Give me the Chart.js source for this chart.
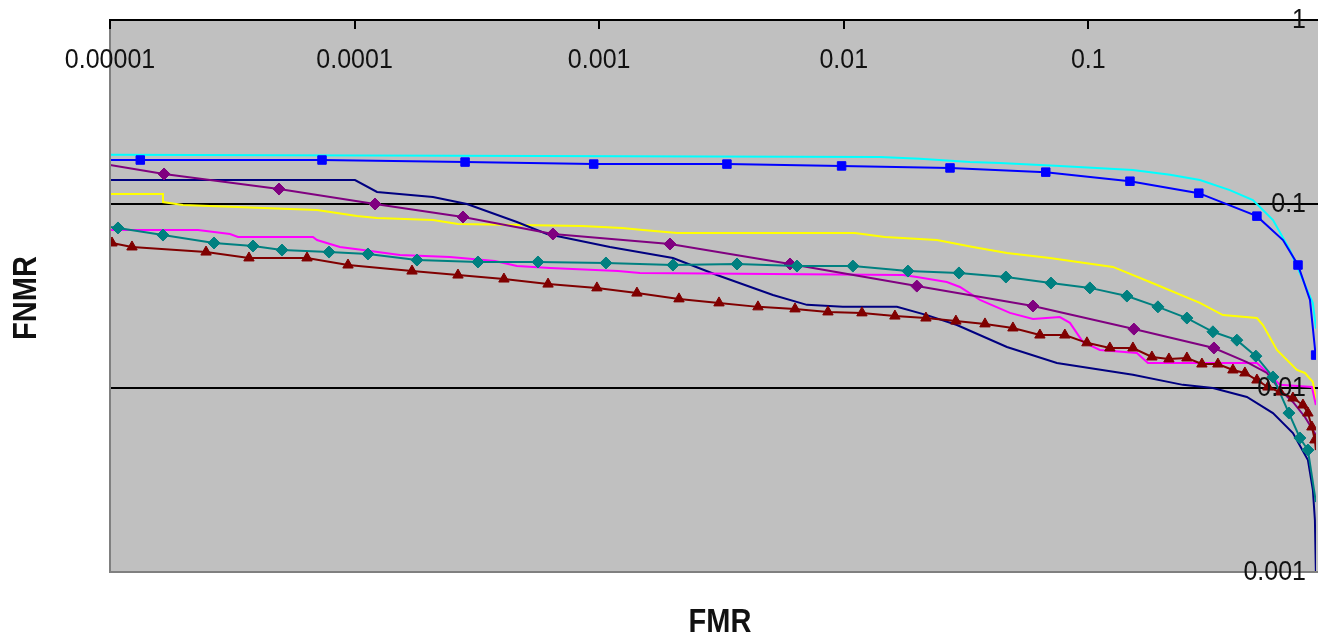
<!DOCTYPE html>
<html>
<head>
<meta charset="utf-8">
<script src="https://cdn.jsdelivr.net/npm/chart.js@4"></script>
<style>
    body { margin: 0; background: #fff; }
    #caixa { width: 1318px; height: 636px; }
</style>
</head>
<body>
<div id="caixa"><canvas id="grafico"></canvas></div>
<script>
// eixos
const fmrTicks = [0.00001, 0.0001, 0.001, 0.01, 0.1];
const fmrLabels = ["0.00001", "0.0001", "0.001", "0.01", "0.1"];
const fnmrTicks = [1, 0.1, 0.01, 0.001];
const fnmrLabels = ["1", "0.1", "0.01", "0.001"];
const fnmrGrade = [0.1, 0.01];

// series (FMR, FNMR)
const cyanFmr = [1e-5, 0.0141, 0.0205, 0.0328, 0.0435, 0.0766, 0.152, 0.216, 0.286, 0.379, 0.471, 0.569, 0.667, 0.769, 0.828, 0.853];
const cyanFnmr = [0.185, 0.180, 0.176, 0.169, 0.167, 0.161, 0.153, 0.144, 0.135, 0.119, 0.105, 0.0818, 0.0562, 0.0363, 0.029, 0.021];

const blueFmr = [1e-5, 1.33e-5, 7.36e-5, 2.83e-4, 9.5e-4, 3.33e-3, 9.8e-3, 0.0272, 0.067, 0.148, 0.283, 0.489, 0.625, 0.72, 0.806, 0.85];
const blueFnmr = [0.1734, 0.1734, 0.1734, 0.169, 0.1648, 0.1648, 0.161, 0.157, 0.149, 0.133, 0.1145, 0.0859, 0.0637, 0.0466, 0.0301, 0.0151];
const blueMarks = [1, 2, 3, 4, 5, 6, 7, 8, 9, 10, 11, 13, 15];

const purpleFmr = [1e-5, 1.663e-5, 4.91e-5, 1.212e-4, 2.775e-4, 6.47e-4, 1.948e-3, 6.03e-3, 0.0199, 0.0594, 0.1536, 0.3263, 0.4451, 0.537, 0.6074, 0.6865, 0.7684, 0.852];
const purpleFnmr = [0.163, 0.1456, 0.1206, 0.1, 0.085, 0.0687, 0.0606, 0.0472, 0.0358, 0.0279, 0.0209, 0.0165, 0.01384, 0.01207, 0.00976, 0.0084, 0.00696, 0.00555];
const purpleMarks = [1, 2, 3, 4, 5, 6, 7, 8, 9, 10, 11];

const navyFmr = [1e-5, 1.004e-4, 1.235e-4, 2.092e-4, 2.88e-4, 4.61e-4, 6.12e-4, 1.107e-3, 2.003e-3, 3.03e-3, 5.135e-3, 7.07e-3, 9.92e-3, 0.0165, 0.02188, 0.02903, 0.04648, 0.0744, 0.1522, 0.2437, 0.3232, 0.4451, 0.5687, 0.6865, 0.7905, 0.8284, 0.8442, 0.852];
const navyFnmr = [0.135, 0.135, 0.1162, 0.1092, 0.1, 0.0798, 0.0687, 0.0584, 0.0509, 0.0411, 0.032, 0.0283, 0.0276, 0.0276, 0.0249, 0.022, 0.0167, 0.01368, 0.0118, 0.0104, 0.01, 0.00894, 0.00731, 0.00569, 0.00406, 0.00279, 0.00192, 0.001];

const yellowFmr = [1e-5, 1.647e-5, 1.647e-5, 1.988e-5, 3.305e-5, 7.02e-5, 1.023e-4, 1.235e-4, 2.092e-4, 2.647e-4, 8.51e-4, 1.24e-3, 1.511e-3, 2.08e-3, 0.01111, 0.01474, 0.02404, 0.03375, 0.04648, 0.06966, 0.1261, 0.1786, 0.2858, 0.3551, 0.489, 0.5176, 0.5904, 0.7126, 0.7684, 0.8284, 0.852];
const yellowFnmr = [0.1133, 0.1133, 0.1025, 0.0988, 0.0963, 0.0928, 0.0861, 0.0839, 0.0818, 0.0778, 0.0759, 0.0741, 0.0722, 0.0696, 0.0696, 0.0662, 0.0637, 0.0584, 0.0542, 0.0509, 0.0455, 0.0377, 0.029, 0.0249, 0.024, 0.022, 0.0161, 0.01253, 0.01207, 0.01078, 0.00861];

const tealFmr = [1e-5, 1.078e-5, 1.647e-5, 2.662e-5, 3.843e-5, 5.05e-5, 7.86e-5, 1.134e-4, 1.799e-4, 3.195e-4, 5.62e-4, 1.066e-3, 2.003e-3, 3.66e-3, 6.44e-3, 0.0109, 0.0183, 0.02958, 0.04604, 0.07033, 0.1015, 0.1438, 0.1926, 0.253, 0.3232, 0.405, 0.4844, 0.5687, 0.661, 0.733, 0.7905, 0.852];
const tealFnmr = [0.075, 0.0741, 0.0678, 0.0614, 0.0591, 0.0562, 0.0548, 0.0535, 0.0496, 0.0484, 0.0484, 0.0478, 0.0466, 0.0472, 0.046, 0.046, 0.0432, 0.0422, 0.0401, 0.0372, 0.035, 0.0316, 0.0276, 0.024, 0.0202, 0.0182, 0.0149, 0.01148, 0.00731, 0.00535, 0.0046, 0.0024];
const tealMarks = [1, 2, 3, 4, 5, 6, 7, 8, 9, 10, 11, 12, 13, 14, 15, 16, 17, 18, 19, 20, 21, 22, 23, 24, 25, 26, 27, 28, 29, 30];

const magentaFmr = [1e-5, 2.29e-5, 3.095e-5, 3.337e-5, 6.76e-5, 7.02e-5, 8.71e-5, 1.082e-4, 1.533e-4, 2.455e-4, 3.75e-4, 4.61e-4, 6.29e-4, 1.194e-3, 1.468e-3, 0.01746, 0.0199, 0.0264, 0.02987, 0.03605, 0.04781, 0.0594, 0.0765, 0.0841, 0.095, 0.1115, 0.158, 0.1753, 0.489, 0.5517, 0.6074, 0.8206, 0.852];
const magentaFnmr = [0.0722, 0.0722, 0.0687, 0.0662, 0.0662, 0.0637, 0.0584, 0.0562, 0.0528, 0.0515, 0.049, 0.046, 0.0449, 0.0432, 0.0422, 0.0411, 0.0401, 0.0377, 0.0354, 0.0301, 0.0256, 0.0237, 0.0243, 0.0226, 0.0178, 0.0161, 0.0155, 0.01367, 0.01367, 0.0118, 0.0104, 0.01012, 0.00808];

const redFmr = [1e-5, 1.019e-5, 1.23e-5, 2.47e-5, 3.70e-5, 6.39e-5, 9.40e-5, 1.717e-4, 2.647e-4, 4.08e-4, 6.18e-4, 9.79e-4, 1.427e-3, 2.12e-3, 3.09e-3, 4.46e-3, 6.32e-3, 8.62e-3, 0.01187, 0.01619, 0.02168, 0.02875, 0.0378, 0.04918, 0.0634, 0.0802, 0.0987, 0.1225, 0.1522, 0.182, 0.2136, 0.253, 0.2914, 0.3387, 0.3902, 0.4368, 0.489, 0.5425, 0.6074, 0.6865, 0.7543, 0.7905, 0.8206, 0.8442, 0.852];
const redFnmr = [0.0622, 0.0614, 0.0584, 0.0548, 0.0509, 0.0509, 0.0466, 0.0432, 0.0411, 0.0391, 0.0367, 0.035, 0.0328, 0.0305, 0.029, 0.0276, 0.0269, 0.0259, 0.0256, 0.0246, 0.024, 0.0231, 0.0223, 0.0212, 0.0194, 0.0194, 0.0176, 0.0165, 0.0165, 0.01474, 0.01438, 0.01456, 0.0135, 0.0135, 0.01253, 0.01207, 0.01105, 0.01012, 0.00951, 0.00882, 0.00808, 0.00731, 0.00614, 0.00522, 0.0046];
const redMarks = redFmr.map((_, i) => i).filter(i => i > 0 && i < redFmr.length - 1);

function serie(fmr, fnmr, cor, estilo, marcas, raio) {
    return {
        data: fmr.map((x, i) => ({ x, y: fnmr[i] })),
        borderColor: cor,
        backgroundColor: cor,
        borderWidth: 2,
        tension: 0,
        pointStyle: estilo || "circle",
        pointRadius: ctx => (marcas && marcas.includes(ctx.dataIndex) ? raio : 0),
        pointBorderWidth: 1,
        pointHoverRadius: 0
    };
}

function texto(ctx, t, x, y) {
    ctx.save();
    ctx.translate(x, y);
    ctx.scale(1, 1.12);
    ctx.fillText(t, 0, 0);
    ctx.restore();
}

const fundo = {
    id: "fundo",
    beforeDatasetsDraw(chart) {
        const { ctx, chartArea: a, scales } = chart;
        ctx.save();
        ctx.fillStyle = "#c0c0c0";
        ctx.fillRect(a.left, a.top, chart.width - a.left, a.bottom - a.top);

        // linhas de grade em 0.1 e 0.01
        ctx.strokeStyle = "#000";
        ctx.lineWidth = 2;
        fnmrGrade.forEach(v => {
            const py = Math.round(scales.y.getPixelForValue(v));
            ctx.beginPath();
            ctx.moveTo(a.left, py);
            ctx.lineTo(chart.width, py);
            ctx.stroke();
        });
        ctx.restore();
    },
    afterDraw(chart) {
        const { ctx, chartArea: a, scales } = chart;
        const x = scales.x, y = scales.y;
        const w = chart.width;
        ctx.save();

        // bordas
        ctx.lineWidth = 2;
        ctx.strokeStyle = "#808080";
        ctx.beginPath();
        ctx.moveTo(a.left, a.top);
        ctx.lineTo(a.left, a.bottom);
        ctx.lineTo(w, a.bottom);
        ctx.stroke();

        ctx.strokeStyle = "#000";
        ctx.beginPath();
        ctx.moveTo(a.left - 1, a.top);
        ctx.lineTo(w, a.top);
        ctx.stroke();

        // marcas do eixo x (para dentro)
        fmrTicks.forEach(v => {
            const px = Math.round(x.getPixelForValue(v));
            ctx.beginPath();
            ctx.moveTo(px, a.top);
            ctx.lineTo(px, a.top + 9);
            ctx.stroke();
        });

        // textos
        ctx.fillStyle = "#111";
        ctx.font = "25px 'Liberation Sans', Arial, sans-serif";
        ctx.textBaseline = "middle";

        ctx.textAlign = "center";
        fmrTicks.forEach((v, i) => texto(ctx, fmrLabels[i], x.getPixelForValue(v), a.top + 40));

        ctx.textAlign = "right";
        fnmrTicks.forEach((v, i) => texto(ctx, fnmrLabels[i], a.right - 10, y.getPixelForValue(v)));

        ctx.font = "bold 29px 'Liberation Sans', Arial, sans-serif";
        ctx.textAlign = "center";
        texto(ctx, "FMR", 720, 623);

        ctx.save();
        ctx.translate(27, (a.top + a.bottom) / 2 + 2);
        ctx.rotate(-Math.PI / 2);
        texto(ctx, "FNMR", 0, 0);
        ctx.restore();

        ctx.restore();
    }
};

new Chart(document.getElementById("grafico"), {
    type: "line",
    data: {
        datasets: [
            serie(redFmr, redFnmr, "#800000", "triangle", redMarks, 6),
            serie(blueFmr, blueFnmr, "#0000ff", "rect", blueMarks, 6),
            serie(tealFmr, tealFnmr, "#008080", "rectRot", tealMarks, 6),
            serie(purpleFmr, purpleFnmr, "#800080", "rectRot", purpleMarks, 6),
            serie(magentaFmr, magentaFnmr, "#ff00ff"),
            serie(navyFmr, navyFnmr, "#000080"),
            serie(yellowFmr, yellowFnmr, "#ffff00"),
            serie(cyanFmr, cyanFnmr, "#00ffff")
        ]
    },
    options: {
        responsive: true,
        maintainAspectRatio: false,
        animation: false,
        events: [],
        layout: { autoPadding: false, padding: { left: 110, top: 20, right: 2, bottom: 64 } },
        plugins: {
            legend: { display: false },
            tooltip: { enabled: false }
        },
        scales: {
            x: {
                type: "logarithmic",
                min: 0.00001,
                max: 0.853,
                display: false
            },
            y: {
                type: "logarithmic",
                min: 0.001,
                max: 1,
                display: false
            }
        }
    },
    plugins: [fundo]
});
</script>
</body>
</html>
